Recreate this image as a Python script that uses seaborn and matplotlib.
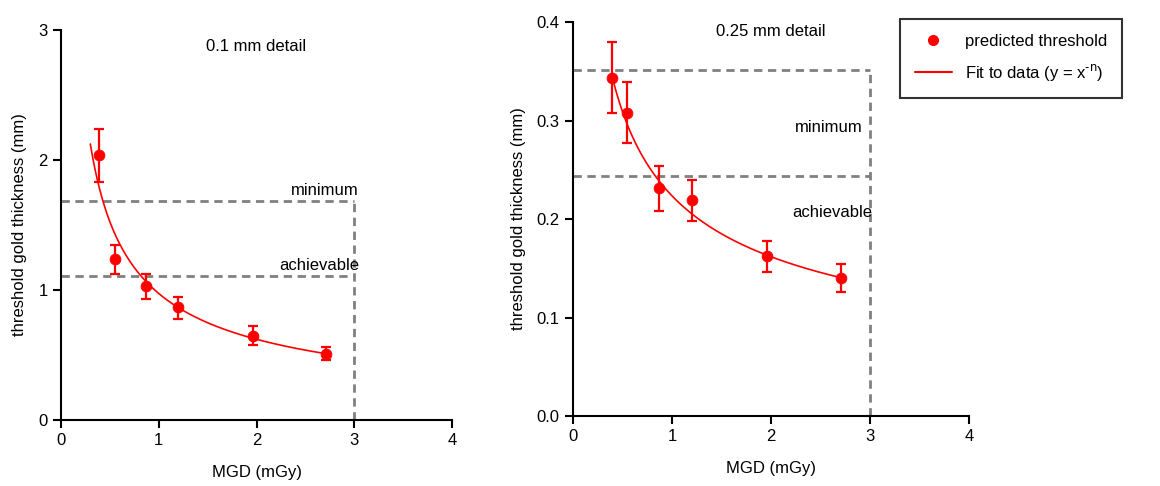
import numpy as np
import pandas as pd
import matplotlib
matplotlib.use("Agg")
import matplotlib.pyplot as plt
import seaborn as sns
from matplotlib.lines import Line2D

# ---- data ----
mgd = [0.39, 0.55, 0.87, 1.20, 1.96, 2.71]

thick_01 = [2.04, 1.24, 1.03, 0.87, 0.65, 0.51]
err_lo_01 = [0.21, 0.12, 0.10, 0.09, 0.07, 0.05]
err_hi_01 = [0.20, 0.11, 0.09, 0.08, 0.07, 0.05]
fit_a_01, fit_n_01, fit_x_01 = 0.973, 0.648, (0.30, 2.71)
min_01, ach_01 = 1.685, 1.108

thick_025 = [0.343, 0.308, 0.231, 0.219, 0.162, 0.140]
err_lo_025 = [0.035, 0.031, 0.023, 0.021, 0.016, 0.014]
err_hi_025 = [0.037, 0.031, 0.023, 0.021, 0.016, 0.014]
fit_a_025, fit_n_025, fit_x_025 = 0.2235, 0.467, (0.40, 2.72)
min_025, ach_025 = 0.351, 0.2437

x_ticks = [0, 1, 2, 3, 4]
y_ticks_01 = [0, 1, 2, 3]
y_ticks_025 = [0.0, 0.1, 0.2, 0.3, 0.4]
dose_limit = 3.0

sns.set_theme(style="ticks")
plt.rcParams['font.family'] = ['Liberation Sans', 'DejaVu Sans']
plt.rcParams['font.size'] = 12
plt.rcParams['text.color'] = 'black'
plt.rcParams['axes.labelcolor'] = 'black'
plt.rcParams['xtick.color'] = 'black'
plt.rcParams['ytick.color'] = 'black'
plt.rcParams['axes.unicode_minus'] = False

RED = '#ff0000'
GREY = '#808080'
FS = 12

fig = plt.figure(figsize=(11.6, 4.86), dpi=100)
ax1 = fig.add_axes([61/1160, 66/486, 391/1160, 390/486])
ax2 = fig.add_axes([573/1160, 70/486, 396/1160, 394/486])


def panel(ax, y, elo, ehi, a, n, xr, ymin_line, yach_line, yticks, ylim, title, title_y,
          lab_min, lab_ach, fmt):
    df = pd.DataFrame({'x': mgd, 'y': y})
    xs = np.linspace(xr[0], xr[1], 200)
    fit = pd.DataFrame({'x': xs, 'y': a * xs ** (-n)})
    # dashed guide lines
    ax.plot([0, dose_limit], [ymin_line, ymin_line], ls=(0, (3, 2)), color=GREY, lw=2, zorder=1)
    ax.plot([0, dose_limit], [yach_line, yach_line], ls=(0, (3, 2)), color=GREY, lw=2, zorder=1)
    ax.plot([dose_limit, dose_limit], [0, ymin_line], ls=(0, (3, 2)), color=GREY, lw=2, zorder=1,
            clip_on=False)
    sns.lineplot(data=fit, x='x', y='y', ax=ax, color=RED, lw=1.2, zorder=3)
    ax.errorbar(mgd, y, yerr=[elo, ehi], fmt='none', ecolor=RED, elinewidth=1.6,
                capsize=3.5, capthick=1.6, zorder=4)
    sns.scatterplot(data=df, x='x', y='y', ax=ax, color=RED, s=60, edgecolor=RED, zorder=5)
    ax.set_xlim(0, 4)
    ax.set_ylim(*ylim)
    ax.set_xticks(x_ticks)
    ax.set_yticks(yticks)
    ax.set_yticklabels([fmt.format(v) for v in yticks])
    ax.set_xlabel('MGD (mGy)', fontsize=FS, labelpad=12)
    ax.set_ylabel('threshold gold thickness (mm)', fontsize=FS, labelpad=8)
    ax.text(2.0, title_y, title, ha='center', va='center', fontsize=FS)
    ax.text(lab_min[0], lab_min[1], 'minimum', ha='right', va=lab_min[2], fontsize=FS)
    ax.text(lab_ach[0], lab_ach[1], 'achievable', ha='right', va=lab_ach[2], fontsize=FS)
    for s in ['top', 'right']:
        ax.spines[s].set_visible(False)
    for s in ['left', 'bottom']:
        ax.spines[s].set_linewidth(1.5)
        ax.spines[s].set_color('black')
    ax.tick_params(direction='out', length=6, width=1.5, color='black', labelsize=FS)
    ax.grid(False)


panel(ax1, thick_01, err_lo_01, err_hi_01, fit_a_01, fit_n_01, fit_x_01, min_01, ach_01,
      y_ticks_01, (0, 3), '0.1 mm detail', 2.87,
      (3.05, 1.71, 'bottom'), (3.05, 1.13, 'bottom'), '{:.0f}')
panel(ax2, thick_025, err_lo_025, err_hi_025, fit_a_025, fit_n_025, fit_x_025, min_025, ach_025,
      y_ticks_025, (0, 0.4), '0.25 mm detail', 0.39,
      (2.93, 0.2934, 'center'), (3.02, 0.207, 'center'), '{:.1f}')

handles = [Line2D([], [], ls='none', marker='o', color=RED, markersize=7),
           Line2D([], [], color=RED, lw=1.5)]
labels = ['predicted threshold', r'Fit to data (y = x$^{\text{-n}}$)']
leg = fig.legend(handles, labels, loc='upper left',
                 bbox_to_anchor=(900/1160, 1 - 19/486), frameon=True, fancybox=False,
                 edgecolor='black', fontsize=FS, borderpad=0.9, handlelength=2.2,
                 labelspacing=0.8, borderaxespad=0)
leg.get_frame().set_linewidth(1.5)

fig.savefig('out.png', dpi=100)
